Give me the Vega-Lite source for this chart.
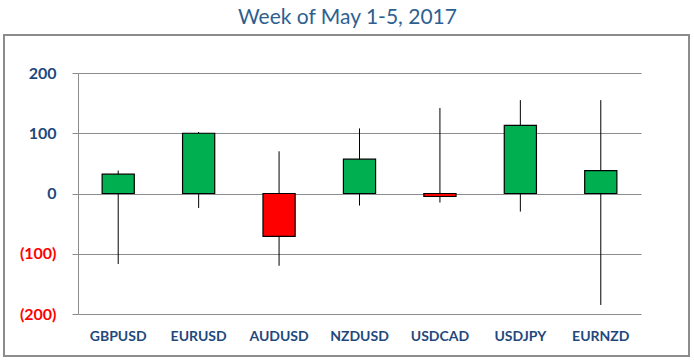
{
  "$schema": "https://vega.github.io/schema/vega-lite/v6.json",
  "width": 563,
  "height": 241,
  "autosize": {"type": "none"},
  "padding": {"left": 78, "top": 73, "right": 53, "bottom": 46},
  "background": "white",
  "title": {
    "text": "Week of May 1-5, 2017",
    "font": "Lato",
    "fontSize": 21,
    "fontWeight": "normal",
    "color": "#2E5F91",
    "anchor": "middle",
    "frame": "group",
    "dx": -12,
    "offset": 6
  },
  "data": {
    "values": [
      {"pair": "GBPUSD", "open": 0, "close": 32, "high": 38, "low": -117, "dir": "up"},
      {"pair": "EURUSD", "open": 0, "close": 100, "high": 102, "low": -24, "dir": "up"},
      {"pair": "AUDUSD", "open": 0, "close": -71, "high": 70, "low": -120, "dir": "down"},
      {"pair": "NZDUSD", "open": 0, "close": 57, "high": 108, "low": -20, "dir": "up"},
      {"pair": "USDCAD", "open": 0, "close": -5, "high": 142, "low": -15, "dir": "down"},
      {"pair": "USDJPY", "open": 0, "close": 113, "high": 155, "low": -30, "dir": "up"},
      {"pair": "EURNZD", "open": 0, "close": 38, "high": 155, "low": -185, "dir": "up"}
    ]
  },
  "layer": [
    {
      "mark": {"type": "rect", "fill": null, "stroke": "#8C8C8C", "strokeWidth": 1.5, "clip": false},
      "encoding": {
        "x": {"datum": -0.131, "type": "quantitative", "scale": {"domain": [0, 1], "nice": false, "zero": false}, "axis": null},
        "x2": {"datum": 1.085},
        "y": {"datum": 263, "type": "quantitative"},
        "y2": {"datum": -270}
      }
    },
    {
      "layer": [
        {
          "mark": {"type": "rule", "color": "black", "strokeWidth": 1},
          "encoding": {
            "x": {"field": "pair", "type": "nominal", "sort": null},
            "y": {"field": "low", "type": "quantitative"},
            "y2": {"field": "high"}
          }
        },
        {
          "mark": {"type": "bar", "stroke": "black", "strokeWidth": 1.2},
          "encoding": {
            "x": {
              "field": "pair",
              "type": "nominal",
              "sort": null,
              "title": null,
              "scale": {"paddingInner": 0.6, "paddingOuter": 0.3},
              "axis": {
                "orient": "bottom",
                "labelAngle": 0,
                "labelAlign": "center",
                "labelBaseline": "top",
                "labelFont": "Lato",
                "labelFontSize": 14,
                "labelFontWeight": "bold",
                "labelColor": "#1F497D",
                "labelPadding": 15,
                "ticks": false,
                "domain": false
              }
            },
            "y": {
              "field": "open",
              "type": "quantitative",
              "title": null,
              "scale": {"domain": [-200, 200], "nice": false},
              "axis": {
                "values": [-200, -100, 0, 100, 200],
                "labelExpr": "datum.value < 0 ? '(' + abs(datum.value) + ')' : '' + datum.value",
                "labelFont": "Lato",
                "labelFontSize": 16,
                "labelFontWeight": "bold",
                "labelColor": {"condition": {"test": "datum.value < 0", "value": "#FF0000"}, "value": "#1F497D"},
                "labelPadding": 16,
                "tickSize": 6,
                "tickColor": "#8C8C8C",
                "domainColor": "#8C8C8C",
                "gridColor": "#8C8C8C",
                "grid": true
              }
            },
            "y2": {"field": "close"},
            "color": {
              "field": "dir",
              "type": "nominal",
              "scale": {"domain": ["up", "down"], "range": ["#00B050", "#FF0000"]},
              "legend": null
            }
          }
        }
      ]
    }
  ],
  "resolve": {"scale": {"x": "independent"}, "axis": {"x": "independent"}},
  "config": {
    "view": {"stroke": null},
    "axis": {"gridWidth": 1, "tickWidth": 1, "domainWidth": 1}
  }
}
